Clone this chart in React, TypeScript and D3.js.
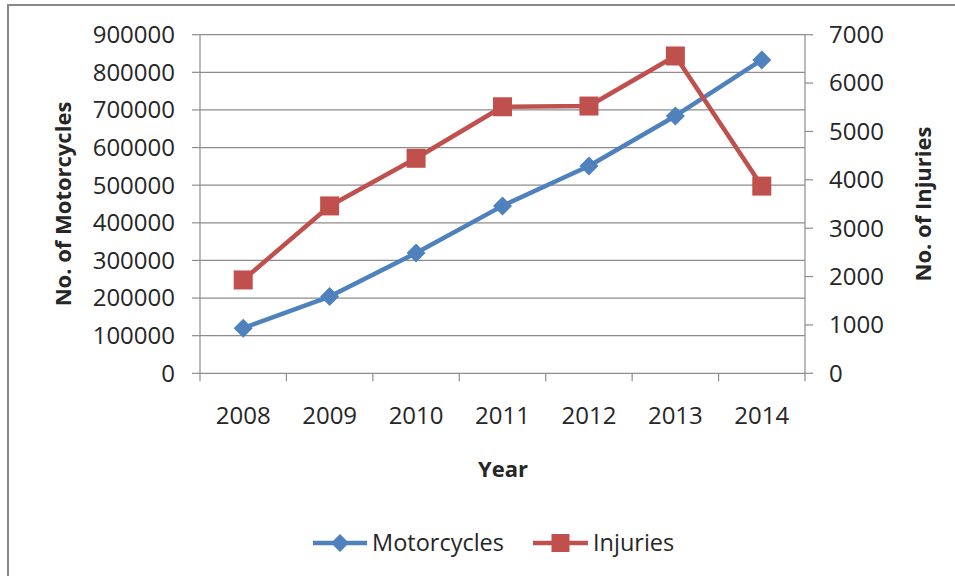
import React from "react";
import * as d3 from "d3";

const years = ["2008", "2009", "2010", "2011", "2012", "2013", "2014"];
const motorcycles = [120000, 204000, 320000, 445000, 551000, 684000, 833000];
const injuries = [1930, 3460, 4445, 5510, 5525, 6560, 3870];
const leftTicks = [0, 100000, 200000, 300000, 400000, 500000, 600000, 700000, 800000, 900000];
const rightTicks = [0, 1000, 2000, 3000, 4000, 5000, 6000, 7000];

const W = 955;
const H = 576;
const FONT = "'Open Sans', 'Noto Sans', sans-serif";
const BLUE = "#4F81BD";
const RED = "#C0504D";
const GRID = "#8C8C8C";
const TEXT = "#262626";

export default function App() {
  const left = 200, right = 805, top = 34.7, bottom = 373.3;
  const x = d3.scaleBand<string>().domain(years).range([left, right]).padding(0);
  const cx = (d: string) => (x(d) as number) + x.bandwidth() / 2;
  const yL = d3.scaleLinear().domain([0, 900000]).range([bottom, top]);
  const yR = d3.scaleLinear().domain([0, 7000]).range([bottom, top]);

  const lineM = d3.line<number>().x((_, i) => cx(years[i])).y((d) => yL(d));
  const lineI = d3.line<number>().x((_, i) => cx(years[i])).y((d) => yR(d));

  const diamond = (px: number, py: number, r: number) =>
    `M${px},${py - r}L${px + r},${py}L${px},${py + r}L${px - r},${py}Z`;
  const sq = 19;

  const boundaries = [...years.map((d) => x(d) as number), right];

  return (
    <svg width={W} height={H} style={{ position: "absolute", left: 0, top: 0, background: "#fff" }}
      fontFamily={FONT}>
      <rect x={0} y={0} width={W} height={H} fill="#fff" />
      <rect x={8} y={5} width={1200} height={1200} fill="none" stroke="#888" strokeWidth={2} />

      {leftTicks.slice(1).map((t) => (
        <line key={"g" + t} x1={left} x2={right} y1={yL(t)} y2={yL(t)} stroke={GRID} strokeWidth={1.2} />
      ))}
      <line x1={left} x2={left} y1={top} y2={bottom} stroke={GRID} strokeWidth={1.2} />
      {leftTicks.map((t) => (
        <g key={"l" + t}>
          <line x1={left - 8} x2={left} y1={yL(t)} y2={yL(t)} stroke={GRID} strokeWidth={1.2} />
          <text x={175} y={yL(t)} dy="0.35em" textAnchor="end" fontSize={24} fill={TEXT}>{t}</text>
        </g>
      ))}
      <line x1={right} x2={right} y1={top} y2={bottom} stroke={GRID} strokeWidth={1.2} />
      {rightTicks.map((t) => (
        <g key={"r" + t}>
          <line x1={right} x2={right + 8} y1={yR(t)} y2={yR(t)} stroke={GRID} strokeWidth={1.2} />
          <text x={829} y={yR(t)} dy="0.35em" textAnchor="start" fontSize={24} fill={TEXT}>{t}</text>
        </g>
      ))}
      <line x1={left} x2={right} y1={bottom} y2={bottom} stroke={GRID} strokeWidth={1.2} />
      {boundaries.map((b, i) => (
        <line key={"xt" + i} x1={b} x2={b} y1={bottom} y2={bottom + 8} stroke={GRID} strokeWidth={1.2} />
      ))}
      {years.map((yv) => (
        <text key={"xl" + yv} x={cx(yv)} y={416} dy="0.35em" textAnchor="middle" fontSize={24} fill={TEXT}>{yv}</text>
      ))}

      <text x={503} y={469} dy="0.35em" textAnchor="middle" fontSize={22} fontWeight="bold" fill={TEXT}>Year</text>
      <text transform={`translate(63,204) rotate(-90)`} dy="0.35em" textAnchor="middle" fontSize={22} fontWeight="bold" fill={TEXT}>No. of Motorcycles</text>
      <text transform={`translate(923,204) rotate(-90)`} dy="0.35em" textAnchor="middle" fontSize={22} fontWeight="bold" fill={TEXT}>No. of Injuries</text>

      <path d={lineM(motorcycles) || ""} fill="none" stroke={BLUE} strokeWidth={4.5} strokeLinejoin="round" />
      {motorcycles.map((v, i) => (
        <path key={"dm" + i} d={diamond(cx(years[i]), yL(v), 9.5)} fill={BLUE} />
      ))}
      <path d={lineI(injuries) || ""} fill="none" stroke={RED} strokeWidth={4.5} strokeLinejoin="round" />
      {injuries.map((v, i) => (
        <rect key={"si" + i} x={cx(years[i]) - sq / 2} y={yR(v) - sq / 2} width={sq} height={sq} fill={RED} />
      ))}

      <line x1={313} x2={367} y1={543} y2={543} stroke={BLUE} strokeWidth={4.5} />
      <path d={diamond(340, 543, 9)} fill={BLUE} />
      <text x={372} y={543} dy="0.35em" fontSize={23.5} fill={TEXT}>Motorcycles</text>
      <line x1={533} x2={588} y1={543} y2={543} stroke={RED} strokeWidth={4.5} />
      <rect x={560.5 - 9} y={543 - 9} width={18} height={18} fill={RED} />
      <text x={593} y={543} dy="0.35em" fontSize={23.5} fill={TEXT}>Injuries</text>
    </svg>
  );
}
